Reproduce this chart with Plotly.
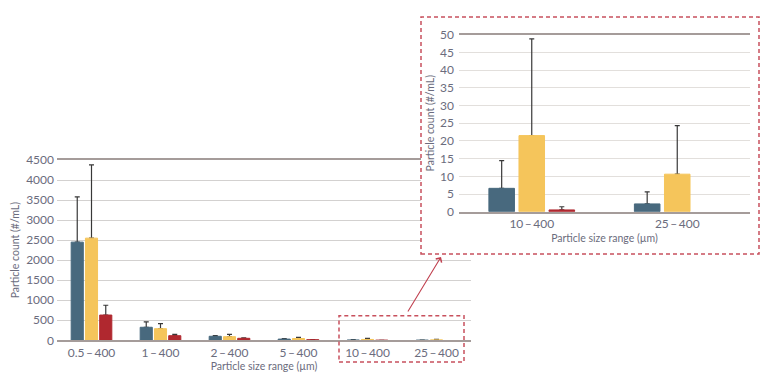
import plotly.graph_objects as go

# ---------------- data ----------------
categories = ["0.5\u2009\u2013\u2009400", "1\u2009\u2013\u2009400", "2\u2009\u2013\u2009400",
              "5\u2009\u2013\u2009400", "10\u2009\u2013\u2009400", "25\u2009\u2013\u2009400"]
series_names = ["Series A", "Series B", "Series C"]
blue_vals = [2450, 325, 100, 30, 6.6, 2.2]
blue_err_top = [3580, 458, 115, 45, 14.4, 5.6]
yellow_vals = [2550, 290, 90, 45, 21.5, 10.6]
yellow_err_top = [4380, 415, 150, 75, 48.8, 24.3]
red_vals = [630, 115, 50, 15, 0.5, None]
red_err_top = [875, 150, 60, 20, 1.4, None]

inset_idx = [4, 5]
main_ticks = [0, 500, 1000, 1500, 2000, 2500, 3000, 3500, 4000, 4500]
inset_ticks = [0, 5, 10, 15, 20, 25, 30, 35, 40, 45, 50]

colors = ["#48697e", "#f5c55b", "#b0282f"]
TEXT = "#6b6c7d"
FONT = "Lato"
W, H = 774, 379

series = [(blue_vals, blue_err_top), (yellow_vals, yellow_err_top), (red_vals, red_err_top)]


def px_x(p):
    return p / W


def px_y(p):
    return (H - p) / H


fig = go.Figure()


def add_series(xaxis, yaxis, idx):
    cats = [categories[i] for i in idx]
    for k, (vals, tops) in enumerate(series):
        v = [vals[i] for i in idx]
        t = [tops[i] for i in idx]
        up = [(tt - vv) if (tt is not None and vv is not None) else None for tt, vv in zip(t, v)]
        # error bar carrier (drawn first, covered by the coloured bar)
        fig.add_trace(go.Bar(
            x=cats, y=v, xaxis=xaxis, yaxis=yaxis, offsetgroup=str(k),
            marker=dict(color="rgba(0,0,0,0)", line=dict(width=0)),
            error_y=dict(type="data", symmetric=False, array=up,
                         arrayminus=[0] * len(v), color="#383838",
                         thickness=1.2, width=2.5),
            showlegend=False, hoverinfo="skip"))
        fig.add_trace(go.Bar(
            x=cats, y=v, xaxis=xaxis, yaxis=yaxis, offsetgroup=str(k),
            name=series_names[k],
            marker=dict(color=colors[k], line=dict(color=colors[k], width=1)),
            showlegend=False))


add_series("x", "y", list(range(len(categories))))
add_series("x3", "y3", inset_idx)

# cover subplot (white background hiding main grid under inset)
fig.add_trace(go.Scatter(x=[None], y=[None], xaxis="x2", yaxis="y2",
                         showlegend=False, hoverinfo="skip"))

axis_font = dict(family=FONT, size=12, color=TEXT)
title_font = dict(family=FONT, size=10.5, color=TEXT)

fig.update_layout(
    width=W, height=H, autosize=False, showlegend=False,
    margin=dict(l=0, r=0, t=0, b=0, pad=0, autoexpand=False),
    paper_bgcolor="white", plot_bgcolor="white",
    barmode="group", bargap=0.38, bargroupgap=0.15,
    font=dict(family=FONT, color=TEXT),
    xaxis=dict(domain=[px_x(57), px_x(471)], anchor="y", automargin=False,
               categoryorder="array", categoryarray=categories,
               showline=True, linecolor="#a59c9a", linewidth=2, mirror=True,
               showgrid=False, ticks="", tickfont=axis_font,
               title=dict(text="Particle size range (\u00b5m)", font=title_font, standoff=4)),
    yaxis=dict(domain=[px_y(340.3), px_y(160)], anchor="x", range=[0, 4500], automargin=False,
               tickvals=main_ticks, showgrid=True, gridcolor="#d3d1d0", gridwidth=1,
               zeroline=False, showline=False, ticks="", tickfont=axis_font,
               ticklabelstandoff=2,
               title=dict(text="Particle count (#/mL)", font=title_font, standoff=4)),
    xaxis2=dict(domain=[px_x(421), px_x(759)], anchor="y2", visible=False, automargin=False,
                range=[0, 1], showgrid=False, zeroline=False),
    yaxis2=dict(domain=[px_y(254), px_y(17)], anchor="x2", visible=False, automargin=False,
                range=[0, 1], showgrid=False, zeroline=False),
    xaxis3=dict(domain=[px_x(459), px_x(750)], anchor="y3", automargin=False,
                categoryorder="array", categoryarray=[categories[i] for i in inset_idx],
                showline=True, linecolor="#a59c9a", linewidth=2, mirror=True,
                showgrid=False, ticks="", tickfont=axis_font,
                title=dict(text="Particle size range (\u00b5m)", font=title_font, standoff=5)),
    yaxis3=dict(domain=[px_y(211.7), px_y(34.7)], anchor="x3", range=[0, 50], automargin=False,
                tickvals=inset_ticks, showgrid=True, gridcolor="#e2dfdc", gridwidth=1,
                zeroline=False, showline=False, ticks="", tickfont=axis_font,
                ticklabelstandoff=4,
                title=dict(text="Particle count (#/mL)", font=title_font, standoff=3)),
)

box_line = dict(color="#c8505d", width=1.5, dash="4px,3px")
fig.add_shape(type="rect", xref="paper", yref="paper",
              x0=px_x(421), x1=px_x(759), y0=px_y(254), y1=px_y(17), line=box_line)
fig.add_shape(type="rect", xref="paper", yref="paper",
              x0=px_x(339), x1=px_x(464), y0=px_y(362), y1=px_y(315.7), line=box_line)

fig.add_annotation(xref="paper", yref="paper", x=px_x(441), y=px_y(257),
                   axref="pixel", ayref="pixel", ax=-34, ay=56, text="",
                   showarrow=True, arrowhead=4, arrowsize=1.2, arrowwidth=1.1,
                   arrowcolor="#c0404f")

fig.write_html("out.html", config={"displayModeBar": False},
               post_script="document.body.style.margin='0';document.body.style.padding='0';"
                           "document.body.style.overflow='hidden';")
